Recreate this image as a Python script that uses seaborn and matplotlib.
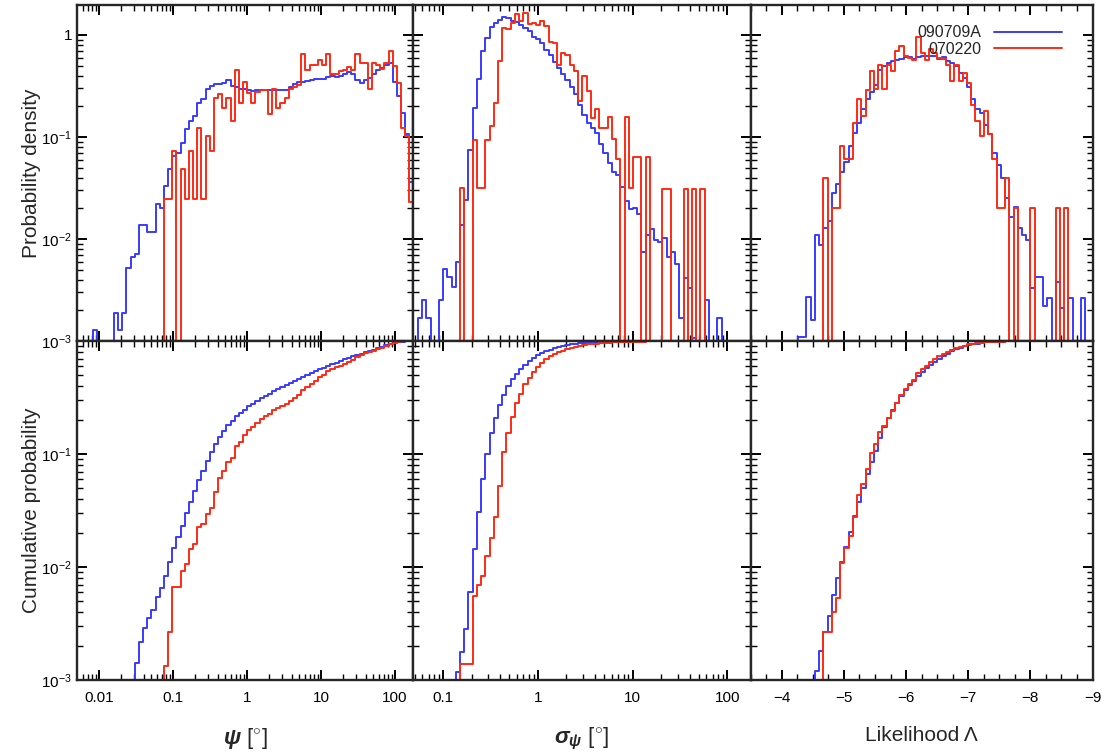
import numpy as np
import matplotlib
matplotlib.use("Agg")
import matplotlib.pyplot as plt
import seaborn as sns
from matplotlib.ticker import LogLocator, MultipleLocator, NullFormatter

# ---- data ----
names = ["090709A", "070220"]

# psi [deg]: log10 bins starting at psi_bin0, width psi_dbin
psi_bin0, psi_dbin = -2.25, 0.05625
psi_090709A = [0, 0, 0, 0.0013, 0, 0, 0, 0, 0.0019, 0.0013,
               0.0019, 0.0052, 0.0066, 0.0072, 0.0136, 0.0136, 0.0117, 0.0117, 0.022, 0.020,
               0.033, 0.049, 0.065, 0.069, 0.088, 0.119, 0.144, 0.160, 0.213, 0.233,
               0.292, 0.318, 0.333, 0.333, 0.338, 0.365, 0.318, 0.31, 0.296, 0.296,
               0.29, 0.28, 0.287, 0.29, 0.287, 0.287, 0.287, 0.29, 0.287, 0.29,
               0.31, 0.333, 0.343, 0.345, 0.35, 0.365, 0.37, 0.37, 0.37, 0.387,
               0.40, 0.387, 0.40, 0.417, 0.433, 0.41, 0.365, 0.338, 0.365, 0.378,
               0.417, 0.45, 0.473, 0.51, 0.53, 0.343, 0.25, 0.173, 0.106, 0.036]
psi_070220 = [0, 0, 0, 0, 0, 0, 0, 0, 0, 0,
              0, 0, 0, 0, 0, 0, 0, 0, 0, 0,
              0.0247, 0.0247, 0.073, 0, 0.049, 0.0245, 0.073, 0.0245, 0.123, 0.0245,
              0.102, 0.073, 0.241, 0.266, 0.193, 0.241, 0.143, 0.457, 0.216, 0.343,
              0.27, 0.213, 0.274, 0.287, 0.287, 0.169, 0.296, 0.193, 0.213, 0.241,
              0.296, 0.31, 0.325, 0.653, 0.456, 0.51, 0.51, 0.57, 0.51, 0.653,
              0.417, 0.41, 0.44, 0.456, 0.49, 0.456, 0.653, 0.53, 0.53, 0.296,
              0.53, 0.51, 0.46, 0.53, 0.688, 0.50, 0.338, 0.123, 0.102, 0.023]

# sigma_psi [deg]: log10 bins
sig_bin0, sig_dbin = -1.3115, 0.0445
sig_090709A = [0, 0.00168, 0.00253, 0.00168, 0, 0, 0.00253, 0.00507, 0.00427, 0.0034,
               0.0059, 0.0136, 0.0242, 0.0747, 0.193, 0.37, 0.70, 0.93, 1.19, 1.32,
               1.40, 1.49, 1.45, 1.38, 1.35, 1.25, 1.16, 1.08, 0.96, 0.91,
               0.83, 0.715, 0.64, 0.54, 0.47, 0.41, 0.365, 0.31, 0.264, 0.208,
               0.166, 0.136, 0.123, 0.11, 0.085, 0.0703, 0.056, 0.045, 0.042, 0.032,
               0.0238, 0.0195, 0.020, 0.0177, 0.00747, 0.0109, 0.0126, 0.0099, 0.0094, 0.0103,
               0.00668, 0.00747, 0.00575, 0.00168, 0.00417, 0.00333, 0.00108, 0, 0, 0.00253,
               0, 0, 0.00168, 0, 0, 0, 0, 0, 0, 0]
sig_070220 = [0, 0, 0, 0, 0, 0, 0, 0, 0, 0,
              0, 0.0314, 0, 0, 0.094, 0.0314, 0.0314, 0.094, 0.128, 0.216,
              0.558, 1.16, 1.14, 1.30, 1.60, 1.38, 1.63, 1.28, 1.32, 1.25,
              1.38, 1.22, 0.86, 0.83, 0.51, 0.66, 0.64, 0.51, 0.44, 0.224,
              0.40, 0.28, 0.154, 0.186, 0.123, 0.123, 0.158, 0.095, 0.0615, 0,
              0.158, 0.0314, 0.063, 0.063, 0, 0.063, 0, 0, 0, 0.031,
              0.031, 0, 0, 0, 0.031, 0, 0.031, 0, 0.031, 0,
              0, 0, 0, 0, 0, 0, 0, 0, 0, 0]

# likelihood Lambda: linear bins going down from lam_bin0
lam_bin0, lam_dbin = -3.512, -0.068
lam_090709A = [0, 0, 0, 0, 0, 0, 0, 0, 0, 0,
               0, 0.0011, 0.0011, 0.00272, 0.00162, 0.0109, 0.0087, 0.0128, 0.0152, 0.0283,
               0.0346, 0.045, 0.057, 0.0817, 0.110, 0.138, 0.186, 0.233, 0.274, 0.326,
               0.456, 0.492, 0.53, 0.55, 0.571, 0.58, 0.606, 0.606, 0.58, 0.606,
               0.615, 0.615, 0.615, 0.615, 0.58, 0.606, 0.55, 0.53, 0.50, 0.423,
               0.378, 0.31, 0.233, 0.186, 0.17, 0.13, 0.106, 0.0703, 0.053, 0.040,
               0.025, 0.0164, 0.0205, 0.0128, 0.0109, 0.0097, 0.00328, 0.00427, 0.00427, 0.00222,
               0.00266, 0.0010, 0.00381, 0.0021, 0, 0.00266, 0, 0, 0.00266, 0, 0]
lam_070220 = [0, 0, 0, 0, 0, 0, 0, 0, 0, 0,
              0, 0, 0, 0, 0, 0, 0, 0.040, 0, 0.020,
              0.020, 0.0817, 0.0606, 0.0606, 0.138, 0.233, 0.160, 0.291, 0.44, 0.296,
              0.51, 0.296, 0.51, 0.44, 0.688, 0.77, 0.624, 0.59, 0.57, 0.95,
              0.66, 0.57, 0.725, 0.67, 0.59, 0.58, 0.51, 0.351, 0.51, 0.351,
              0.423, 0.338, 0.208, 0.143, 0.102, 0.179, 0.106, 0.0606, 0.020, 0.020,
              0.040, 0, 0.020, 0, 0, 0, 0.020, 0, 0, 0,
              0, 0, 0.020, 0, 0.020, 0, 0, 0, 0, 0, 0]
lam_ticks = [-4, -5, -6, -7, -8, -9]

BLUE = "#3a3aff"
RED = "#ff2a14"
FONT = ["Liberation Sans", "DejaVu Sans"]

sns.set_style("ticks")
plt.rcParams["font.family"] = FONT
plt.rcParams["mathtext.fontset"] = "custom"
plt.rcParams["mathtext.rm"] = "Liberation Sans"
plt.rcParams["mathtext.it"] = "Liberation Sans:italic"
plt.rcParams["mathtext.bf"] = "Liberation Sans:bold:italic"


def bin_edges(b0, db, n):
    return b0 + db * np.arange(n + 1)


def draw_column(ax_top, ax_bot, edges, series, logx):
    # edges/values are in plotting units (log10 for log axes)
    centers = 0.5 * (edges[1:] + edges[:-1])
    x = 10 ** centers if logx else centers
    bins = sorted(edges.tolist())
    for vals, col, name in zip(series, [BLUE, RED], names):
        w = np.asarray(vals, dtype=float)
        sns.histplot(x=x, weights=w, bins=bins, element="step", fill=False,
                     stat="count", log_scale=logx, color=col, lw=1.4,
                     ax=ax_top, label=name)
        sns.histplot(x=x, weights=w, bins=bins, element="step", fill=False,
                     stat="probability", cumulative=True, log_scale=logx,
                     color=col, lw=1.4, ax=ax_bot)


fig, axes = plt.subplots(2, 3, figsize=(11.16, 7.55), dpi=100,
                         sharex="col", sharey="row",
                         gridspec_kw=dict(width_ratios=[336, 338, 342],
                                          height_ratios=[336, 339]))
fig.subplots_adjust(left=0.069, right=0.979, top=0.993, bottom=0.0993,
                    wspace=0, hspace=0)

draw_column(axes[0, 0], axes[1, 0], bin_edges(psi_bin0, psi_dbin, len(psi_090709A)),
            [psi_090709A, psi_070220], True)
draw_column(axes[0, 1], axes[1, 1], bin_edges(sig_bin0, sig_dbin, len(sig_090709A)),
            [sig_090709A, sig_070220], True)
# the likelihood panel accumulates from -3.5 towards -9, so it is drawn against -Lambda
draw_column(axes[0, 2], axes[1, 2], -bin_edges(lam_bin0, lam_dbin, len(lam_090709A)),
            [lam_090709A, lam_070220], False)

for ax in axes.flat:
    ax.set_yscale("log")
    ax.set_xlabel("")
    ax.set_ylabel("")
    for s in ax.spines.values():
        s.set_linewidth(1.7)
    ax.tick_params(which="both", direction="in", top=True, right=True,
                   labelsize=11, colors="black")
    ax.tick_params(which="major", length=7, width=1.4)
    ax.tick_params(which="minor", length=4, width=1.0)

axes[0, 0].set_ylim(1e-3, 1.95)
axes[1, 0].set_ylim(1e-3, 1.0)
axes[0, 0].set_yticks([1e-3, 1e-2, 1e-1, 1],
                      labels=[r"$\mathdefault{10^{-3}}$", r"$\mathdefault{10^{-2}}$",
                              r"$\mathdefault{10^{-1}}$", "1"])
axes[1, 0].set_yticks([1e-3, 1e-2, 1e-1],
                      labels=[r"$\mathdefault{10^{-3}}$", r"$\mathdefault{10^{-2}}$",
                              r"$\mathdefault{10^{-1}}$"])
for a in (axes[0, 0], axes[1, 0]):
    a.yaxis.set_minor_locator(LogLocator(base=10, subs=np.arange(2, 10)))
    a.yaxis.set_minor_formatter(NullFormatter())

axes[1, 0].set_xlim(10 ** -2.3, 10 ** 2.24)
axes[1, 0].set_xticks([0.01, 0.1, 1, 10, 100], labels=["0.01", "0.1", "1", "10", "100"])
axes[1, 1].set_xlim(10 ** -1.32, 10 ** 2.245)
axes[1, 1].set_xticks([0.1, 1, 10, 100], labels=["0.1", "1", "10", "100"])
for a in (axes[1, 0], axes[1, 1]):
    a.xaxis.set_minor_locator(LogLocator(base=10, subs=np.arange(2, 10)))
    a.xaxis.set_minor_formatter(NullFormatter())
axes[1, 2].set_xlim(3.5, 9.0)
axes[1, 2].set_xticks([-t for t in lam_ticks],
                      labels=[f"\u2212{abs(t)}" for t in lam_ticks])
axes[1, 2].xaxis.set_minor_locator(MultipleLocator(0.25))

for ax in axes[1]:
    ax.tick_params(axis="x", pad=8)

axes[0, 0].set_ylabel("Probability density", fontsize=15, labelpad=0)
axes[1, 0].set_ylabel("Cumulative probability", fontsize=15, labelpad=0)
axes[1, 0].set_xlabel(r"$\mathbf{\psi}$ [$^{\circ}$]", fontsize=16, labelpad=15)
axes[1, 1].set_xlabel(r"$\mathbf{\sigma_{\psi}}$ [$^{\circ}$]", fontsize=16, labelpad=15)
axes[1, 2].set_xlabel("Likelihood \u039b", fontsize=15, labelpad=15)
fig.align_ylabels(axes[:, 0])

axes[0, 2].legend(loc="upper right", bbox_to_anchor=(0.912, 0.94), frameon=False,
                  markerfirst=False, handlelength=4.3, handletextpad=0.8,
                  labelspacing=0.1, borderpad=0, borderaxespad=0, fontsize=11.5)

fig.savefig("out.png", dpi=100)
